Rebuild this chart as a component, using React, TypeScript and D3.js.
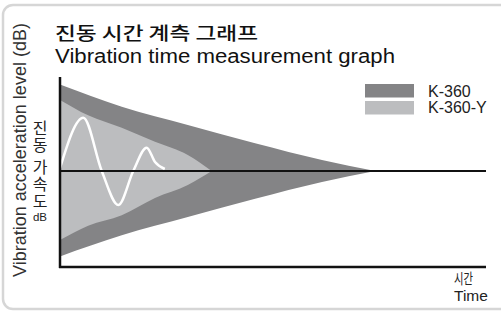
import { useEffect, useRef } from "react";
import * as d3 from "d3";

// time in % of axis length, level in % of half height
const darkTime = [0, 14.5, 30, 45.8, 61.5, 74];
const darkUpper = [90, 67, 48, 29, 11.5, 0];
const darkLower = [-89, -67, -48, -29, -11.5, 0];

const lightTime = [0, 6.6, 14.5, 22.3, 30, 35.6];
const lightUpper = [74, 58, 45, 30.5, 16.7, 0];
const lightLower = [-72, -57, -46, -28, -14.6, 0];

const waveTime = [0, 5.47, 9.8, 13.7, 17.2, 20.35, 22.3, 24.6];
const waveLevel = [3, 55.5, 0, -35.4, 0, 24.3, 9.4, 2.1];

const legendLabels = ["K-360", "K-360-Y"];
const legendColors = ["#848486", "#bcbdbf"];

const W = 501;
const H = 311;

export default function App() {
  const svgRef = useRef<SVGSVGElement>(null);

  useEffect(() => {
    if (!svgRef.current) return;
    const svg = d3.select(svgRef.current);
    svg.selectAll("*").remove();

    const sans = "'Liberation Sans', Arial, sans-serif";
    const kr = "'Noto Sans CJK KR', sans-serif";

    // frame
    svg
      .append("rect")
      .attr("x", 3)
      .attr("y", 5)
      .attr("width", 530)
      .attr("height", 304)
      .attr("rx", 10)
      .attr("fill", "#fff")
      .attr("stroke", "#d6d6d6")
      .attr("stroke-width", 2.5);

    // titles
    svg
      .append("text")
      .attr("x", 55)
      .attr("y", 39.5)
      .attr("font-family", kr)
      .attr("font-size", 18.5)
      .attr("font-weight", 500)
      .attr("textLength", 203)
      .attr("lengthAdjust", "spacingAndGlyphs")
      .attr("fill", "#111")
      .text("진동 시간 계측 그래프");

    svg
      .append("text")
      .attr("x", 55)
      .attr("y", 63)
      .attr("font-family", sans)
      .attr("font-size", 20)
      .attr("textLength", 340)
      .attr("lengthAdjust", "spacingAndGlyphs")
      .attr("fill", "#111")
      .text("Vibration time measurement graph");

    const x = d3.scaleLinear().domain([0, 100]).range([60, 486]);
    const y = d3.scaleLinear().domain([-100, 100]).range([267, 75]);

    const band = (t: number[], up: number[], lo: number[]) =>
      d3
        .area<number>()
        .x((_, i) => x(t[i]))
        .y0((_, i) => y(lo[i]))
        .y1((_, i) => y(up[i]))
        .curve(d3.curveMonotoneX)(t);

    svg
      .append("path")
      .attr("d", band(darkTime, darkUpper, darkLower))
      .attr("fill", legendColors[0]);

    svg
      .append("path")
      .attr("d", band(lightTime, lightUpper, lightLower))
      .attr("fill", legendColors[1]);

    // white vibration wave
    const wave = d3
      .line<number>()
      .x((_, i) => x(waveTime[i]))
      .y((d) => y(d))
      .curve(d3.curveMonotoneX);

    svg
      .append("path")
      .attr("d", wave(waveLevel))
      .attr("fill", "none")
      .attr("stroke", "#fff")
      .attr("stroke-width", 2.5);

    // axes
    svg
      .append("line")
      .attr("x1", x(0))
      .attr("x2", x(100))
      .attr("y1", y(0))
      .attr("y2", y(0))
      .attr("stroke", "#111")
      .attr("stroke-width", 2);

    svg
      .append("line")
      .attr("x1", x(0))
      .attr("x2", x(0))
      .attr("y1", 77)
      .attr("y2", 268)
      .attr("stroke", "#111")
      .attr("stroke-width", 2.5);

    svg
      .append("line")
      .attr("x1", x(0) - 1)
      .attr("x2", x(100))
      .attr("y1", 267)
      .attr("y2", 267)
      .attr("stroke", "#111")
      .attr("stroke-width", 2.5);

    // legend
    const lg = svg.append("g").attr("transform", "translate(365,84)");
    legendLabels.forEach((lab, i) => {
      lg.append("rect")
        .attr("x", 0)
        .attr("y", i * 17)
        .attr("width", 49)
        .attr("height", 13.5)
        .attr("fill", legendColors[i]);
      lg.append("text")
        .attr("x", 63)
        .attr("y", i * 16 + 12.5)
        .attr("font-family", sans)
        .attr("font-size", 16)
        .attr("fill", "#222")
        .text(lab);
    });

    // y label (English, rotated)
    svg
      .append("text")
      .attr("transform", "translate(26,150) rotate(-90)")
      .attr("text-anchor", "middle")
      .attr("font-family", sans)
      .attr("font-size", 18)
      .attr("fill", "#333")
      .text("Vibration acceleration level (dB)");

    // y label (Korean, written top to bottom)
    svg
      .append("text")
      .attr("x", 40)
      .attr("y", 120)
      .attr("writing-mode", "vertical-rl")
      .attr("font-family", kr)
      .attr("font-size", 16)
      .attr("letter-spacing", 1)
      .attr("fill", "#222")
      .text("진동 가속도");
    svg
      .append("text")
      .attr("x", 40)
      .attr("y", 221)
      .attr("text-anchor", "middle")
      .attr("font-family", sans)
      .attr("font-size", 11.5)
      .attr("fill", "#222")
      .text("dB");

    // x label
    svg
      .append("text")
      .attr("x", 454)
      .attr("y", 284)
      .attr("font-family", kr)
      .attr("font-size", 15)
      .attr("textLength", 19)
      .attr("lengthAdjust", "spacingAndGlyphs")
      .attr("fill", "#222")
      .text("시간");
    svg
      .append("text")
      .attr("x", 454)
      .attr("y", 301)
      .attr("font-family", sans)
      .attr("font-size", 15.5)
      .attr("fill", "#222")
      .text("Time");
  }, []);

  return (
    <svg
      ref={svgRef}
      width={W}
      height={H}
      style={{ position: "absolute", left: 0, top: 0 }}
    />
  );
}
